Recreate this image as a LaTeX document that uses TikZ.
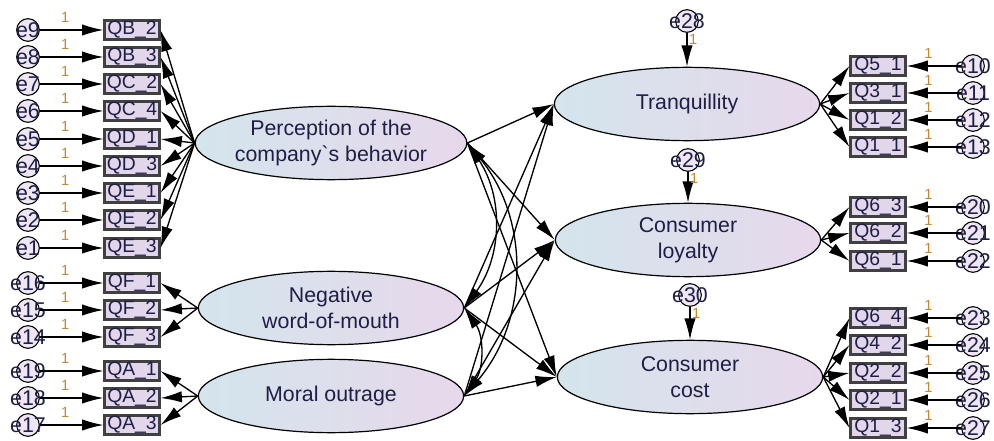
\documentclass[tikz,border=0pt]{standalone}
\usepackage{fontspec}
\setmainfont{Liberation Sans}
\usetikzlibrary{shapes.geometric,arrows.meta}
\definecolor{ink}{RGB}{30,30,70}
\definecolor{latleft}{RGB}{212,229,236}
\definecolor{latright}{RGB}{231,216,235}
\definecolor{obsfill}{RGB}{226,214,234}
\definecolor{onecol}{RGB}{195,135,45}
\newcommand{\errtxt}[1]{\makebox[0pt]{#1}}

\begin{document}
\begin{tikzpicture}[x=0.75pt,y=-0.75pt,
  latent/.style={ellipse, draw, line width=0.9pt, left color=latleft, right color=latright, minimum width=199pt, minimum height=55pt, inner sep=0pt, align=center, text=ink, font=\fontsize{16}{19.5}\selectfont},
  obs/.style={rectangle, draw=black!75, line width=1.8pt, fill=obsfill, minimum width=41pt, minimum height=14pt, inner sep=0pt, text=ink, font=\fontsize{14.5}{14.5}\selectfont},
  err/.style={circle, draw, line width=0.8pt, fill=obsfill!60, minimum size=17pt, inner sep=0pt, text=ink, font=\fontsize{16}{16}\selectfont},
  arr/.style={-{Latex[length=16pt,width=8.5pt]}, line width=1pt},
  cov/.style={{Latex[length=16pt,width=8.5pt]}-{Latex[length=16pt,width=8.5pt]}, line width=1pt},
  one/.style={text=onecol, font=\fontsize{11}{11}\selectfont, inner sep=1pt}]
\useasboundingbox (0,0) rectangle (994,441);

% 潜在変数
\node[latent] (pcb) at (331,143) {Perception of the\\company\textasciigrave s behavior};
\node[latent] (nwom) at (331,308) {Negative\\word-of-mouth};
\node[latent] (mo) at (331,396) {Moral outrage};
\node[latent] (tranq) at (687,104) {Tranquillity};
\node[latent] (loy) at (688,240) {Consumer\\loyalty};
\node[latent] (cost) at (690,377) {Consumer\\cost};

% 左の観測変数
\foreach \q/\e/\y/\f in {QB\_2/e9/30/pcb, QB\_3/e8/57/pcb, QC\_2/e7/84/pcb, QC\_4/e6/111/pcb,
    QD\_1/e5/139/pcb, QD\_3/e4/166/pcb, QE\_1/e3/193/pcb, QE\_2/e2/220/pcb, QE\_3/e1/248/pcb,
    QF\_1/e16/283/nwom, QF\_2/e15/310/nwom, QF\_3/e14/337/nwom,
    QA\_1/e19/371/mo, QA\_2/e18/398/mo, QA\_3/e17/425/mo}{
  \node[obs] (b\e) at (132,\y) {\q};
  \node[err] (\e) at (28,\y) {\errtxt{\e}};
  \draw[arr] (\e) -- node[one, pos=0.4, above=4pt] {1} (b\e);
  \draw[arr] (\f.west) -- (b\e.east);
}

% 右の観測変数
\foreach \q/\e/\y/\f in {Q5\_1/e10/66/tranq, Q3\_1/e11/93/tranq, Q1\_2/e12/120/tranq, Q1\_1/e13/147/tranq,
    Q6\_3/e20/207/loy, Q6\_2/e21/233/loy, Q6\_1/e22/261/loy,
    Q6\_4/e23/318/cost, Q4\_2/e24/345/cost, Q2\_2/e25/373/cost, Q2\_1/e26/400/cost, Q1\_3/e27/428/cost}{
  \node[obs] (b\e) at (878,\y) {\q};
  \node[err] (\e) at (973,\y) {\errtxt{\e}};
  \draw[arr] (\e) -- node[one, pos=0.6, above=4pt] {1} (b\e);
  \draw[arr] (\f.east) -- (b\e.west);
}

% 誤差
\node[err] (e28) at (687,21) {\errtxt{e28}};
\node[err] (e29) at (688,160) {\errtxt{e29}};
\node[err] (e30) at (690,295) {\errtxt{e30}};
\draw[arr] (e28) -- node[one, right, pos=0.2] {1} (tranq);
\draw[arr] (e29) -- node[one, right, pos=0.2] {1} (loy);
\draw[arr] (e30) -- node[one, right, pos=0.2] {1} (cost);

% 構造パス
\foreach \a in {pcb,nwom,mo}
  \foreach \b in {tranq,loy,cost}
    \draw[arr] (\a.east) -- (\b.west);

% 共分散
\draw[cov] (pcb.east) to[bend left=35] (nwom.east);
\draw[cov] (pcb.east) to[bend left=40] (mo.east);
\draw[cov] (nwom.east) to[bend left=35] (mo.east);
\end{tikzpicture}
\end{document}
